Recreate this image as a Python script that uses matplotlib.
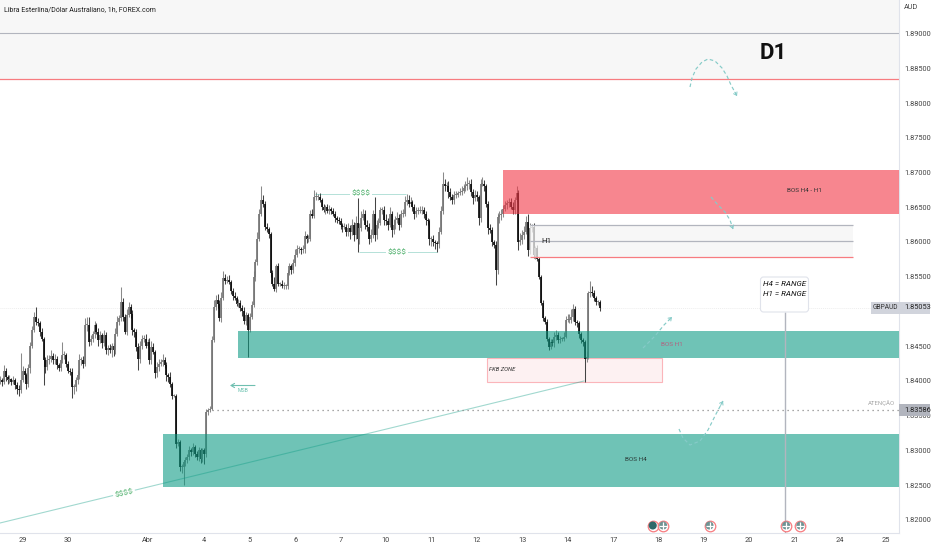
import matplotlib
matplotlib.use("Agg")
import matplotlib.pyplot as plt
from matplotlib.patches import Rectangle, FancyBboxPatch

plt.rcParams['font.family'] = ['Roboto', 'DejaVu Sans']

closes = [
1.8401,1.8399,1.8415,1.8406,1.8401,1.8403,1.8399,1.8401,1.8394,1.8389,
1.8387,1.8401,1.8415,1.8408,1.8396,1.8418,1.8451,1.8473,1.8492,1.8485,
1.8483,1.8471,1.8461,1.8430,1.8420,1.8430,1.8432,1.8436,1.8430,1.8432,
1.8423,1.8419,1.8430,1.8437,1.8437,1.8425,1.8415,1.8413,1.8391,1.8391,
1.8401,1.8408,1.8430,1.8430,1.8425,1.8480,1.8480,1.8456,1.8461,1.8468,
1.8480,1.8471,1.8459,1.8466,1.8454,1.8466,1.8444,1.8447,1.8444,1.8451,
1.8444,1.8468,1.8485,1.8490,1.8514,1.8492,1.8471,1.8495,1.8507,1.8497,
1.8473,1.8471,1.8449,1.8432,1.8451,1.8461,1.8461,1.8451,1.8456,1.8430,
1.8449,1.8442,1.8411,1.8420,1.8425,1.8427,1.8430,1.8423,1.8408,1.8406,
1.8396,1.8379,1.8379,1.8310,1.8312,1.8276,1.8276,1.8283,1.8286,1.8291,
1.8300,1.8298,1.8305,1.8295,1.8291,1.8300,1.8288,1.8300,1.8295,1.8355,
1.8358,1.8360,1.8459,1.8507,1.8516,1.8511,1.8490,1.8520,1.8548,1.8544,
1.8546,1.8543,1.8530,1.8523,1.8520,1.8511,1.8512,1.8505,1.8500,1.8487,
1.8495,1.8474,1.8492,1.8510,1.8550,1.8571,1.8605,1.8640,1.8660,1.8655,
1.8622,1.8618,1.8612,1.8555,1.8540,1.8533,1.8565,1.8540,1.8540,1.8537,
1.8537,1.8537,1.8555,1.8565,1.8560,1.8570,1.8582,1.8590,1.8590,1.8588,
1.8590,1.8608,1.8605,1.8605,1.8640,1.8638,1.8665,1.8665,1.8665,1.8660,
1.8650,1.8646,1.8650,1.8645,1.8648,1.8645,1.8640,1.8635,1.8632,1.8630,
1.8625,1.8622,1.8622,1.8615,1.8620,1.8615,1.8625,1.8610,1.8628,1.8605,
1.8620,1.8635,1.8640,1.8625,1.8622,1.8605,1.8610,1.8640,1.8610,1.8625,
1.8628,1.8646,1.8646,1.8632,1.8630,1.8625,1.8640,1.8617,1.8625,1.8632,
1.8635,1.8625,1.8640,1.8640,1.8658,1.8660,1.8655,1.8657,1.8650,1.8640,
1.8645,1.8645,1.8645,1.8646,1.8640,1.8632,1.8630,1.8604,1.8605,1.8600,
1.8598,1.8597,1.8615,1.8644,1.8684,1.8680,1.8680,1.8672,1.8665,1.8660,
1.8668,1.8668,1.8670,1.8672,1.8674,1.8677,1.8680,1.8684,1.8684,1.8672,
1.8663,1.8668,1.8665,1.8634,1.8684,1.8684,1.8680,1.8655,1.8620,1.8617,
1.8600,1.8596,1.8560,1.8636,1.8639,1.8641,1.8648,1.8653,1.8656,1.8658,
1.8651,1.8646,1.8660,1.8670,1.8600,1.8603,1.8610,1.8615,1.8629,1.8588,
1.8620,1.8622,1.8581,1.8591,1.8576,1.8550,1.8512,1.8490,1.8485,1.8461,
1.8449,1.8456,1.8454,1.8464,1.8466,1.8459,1.8461,1.8461,1.8464,1.8488,
1.8488,1.8488,1.8492,1.8504,1.8485,1.8483,1.8468,1.8459,1.8456,1.8432,
1.8435,1.8526,1.8528,1.8526,1.8519,1.8514,1.8514,1.8505]

upper_wick_pips = [
6,3,8,4,3,5,2,6,3,4,
5,40,6,3,4,7,5,6,8,15,
6,4,5,3,5,7,6,9,4,7,
4,3,6,19,6,3,4,3,5,4,
5,8,9,4,6,10,12,12,5,4,
7,4,5,6,3,8,4,5,6,4,
3,8,9,5,21,6,5,8,6,4,
5,3,4,6,7,5,5,6,4,6,
8,5,3,7,6,5,9,4,5,4,
7,2,3,2,4,3,5,3,5,4,
6,4,6,3,4,5,3,4,3,5,
3,4,6,10,8,9,5,8,10,6,
5,6,3,4,5,3,6,4,5,6,
4,3,6,5,8,5,10,7,20,8,
4,5,3,3,4,10,4,5,3,6,
5,3,4,5,4,6,8,5,4,3,
6,8,4,5,6,8,10,7,4,5,
4,5,3,4,5,3,4,5,3,4,
5,3,6,4,8,5,8,4,10,35,
7,10,8,6,7,5,8,6,25,6,
7,5,4,6,8,5,10,4,8,6,
8,5,6,7,8,9,7,8,4,5,
5,6,7,6,5,4,3,3,4,5,
3,4,6,8,17,7,6,8,5,4,
5,6,4,5,6,7,8,10,5,6,
4,7,5,3,6,10,5,3,4,6,
4,3,5,6,5,6,5,6,4,5,
5,6,5,10,5,10,7,8,8,12,
8,4,5,3,4,3,3,4,3,4,
3,5,4,6,8,5,4,3,6,6,
9,8,11,7,4,3,4,3,3,3,
8,4,16,8,5,4,3,3]

lower_wick_pips = [
5,6,3,6,5,4,5,3,6,8,
9,4,3,5,8,4,6,3,3,5,
4,6,4,36,9,4,5,4,6,5,
6,5,4,4,6,5,3,5,16,9,
5,6,5,7,6,3,8,6,4,5,
6,4,8,5,6,4,5,6,4,10,
8,5,3,4,3,5,4,5,3,6,
7,8,6,16,6,5,5,4,3,5,
6,3,7,5,5,4,6,5,8,8,
4,5,2,6,3,5,8,26,5,4,
5,6,4,5,5,6,6,5,14,5,
4,3,2,3,5,6,4,5,3,4,
3,4,5,6,4,3,5,4,6,5,
7,39,4,3,3,6,4,4,3,5,
5,4,6,6,4,4,5,3,4,3,
4,5,4,3,6,4,5,3,6,5,
4,6,7,5,3,4,3,4,5,3,
4,3,5,3,4,5,3,6,5,4,
6,8,4,7,6,10,5,9,6,19,
8,4,3,7,6,8,5,4,9,6,
5,4,6,8,5,8,4,10,6,6,
4,8,3,4,3,5,4,3,6,7,
4,5,3,4,5,8,6,8,10,6,
8,12,5,4,3,6,5,8,4,6,
5,4,3,3,4,3,4,5,8,6,
8,4,6,10,5,3,6,5,8,4,
6,5,22,6,8,7,5,4,6,5,
4,5,6,3,12,5,6,5,4,8,
5,6,4,5,4,3,3,3,3,4,
4,3,4,5,5,4,5,4,3,2,
3,5,4,5,4,5,6,4,5,33,
5,4,5,3,4,5,4,5]

day_ticks = [12,36,78,108,132,156,180,204,228,252,276,300,324,348,372,396,420,444,468]
day_labels = ['29','30','Abr','4','5','6','7','10','11','12','13','14','17','18','19','20','21','24','25']
price_ticks = [1.82,1.825,1.83,1.835,1.84,1.845,1.855,1.86,1.865,1.87,1.875,1.88,1.885,1.89]
last_price = 1.85053
alert_price = 1.83586
d1_top = 1.89
d1_bottom = 1.8835
red_zone = (266, 1.8640, 1.8703)
h1_zone = (280, 451, 1.8579, 1.8602, 1.8625)
teal_h1 = (126, 1.8433, 1.8472)
teal_h4 = (86, 1.8248, 1.8324)
fkb_zone = (257.5, 350, 1.8399, 1.8433)
event_days = [345, 350.5, 375, 415.5, 423]

W, H = 932, 550
AX_R, AX_B = 899, 533
PX_PER_BAR = 1.892
PX_PER_PRICE = 6950
fig = plt.figure(figsize=(W/100, H/100), dpi=100, facecolor='white')
ax = fig.add_axes([0, (H-AX_B)/H, AX_R/W, AX_B/H])
ax.set_xlim(0, AX_R/PX_PER_BAR)
ax.set_ylim(1.89-(AX_B-33.5)/PX_PER_PRICE, 1.89+33.5/PX_PER_PRICE)

def X(px): return px/PX_PER_BAR
def Y(py): return 1.89-(py-33.5)/PX_PER_PRICE

xmax = ax.get_xlim()[1]
ymax = ax.get_ylim()[1]
GRID = '#b2b5be'
REDL = '#f77c80'

# D1 band
ax.add_patch(Rectangle((0, d1_bottom), xmax, ymax-d1_bottom, fc='#f7f7f7', ec='none', zorder=1))
ax.axhline(d1_top, color=GRID, lw=0.8, zorder=2)
ax.axhline(d1_bottom, color=REDL, lw=0.9, zorder=2)
# last price faint line
ax.axhline(last_price, color='#eeeeee', lw=0.7, ls=(0, (1, 1)), zorder=1)

# candles
for i, c in enumerate(closes):
    o = closes[i-1] if i else c
    hi = max(o, c)+upper_wick_pips[i]/1e4
    lo = min(o, c)-lower_wick_pips[i]/1e4
    up = c >= o
    ax.vlines(i, lo, hi, color='#8a8a8a' if up else '#444444', lw=0.75, zorder=3)
    ax.vlines(i, min(o, c), max(max(o, c), min(o, c)+0.00014), color='#767676' if up else '#0c0c0c', lw=1.25, zorder=4)

# zones
ax.add_patch(Rectangle((red_zone[0], red_zone[1]), xmax-red_zone[0], red_zone[2]-red_zone[1], fc='#f23645', alpha=0.6, ec='none', zorder=5))
for z in (teal_h1, teal_h4):
    ax.add_patch(Rectangle((z[0], z[1]), xmax-z[0], z[2]-z[1], fc='#089981', alpha=0.58, ec='none', zorder=5))
ax.add_patch(Rectangle((h1_zone[0], h1_zone[2]), h1_zone[1]-h1_zone[0], h1_zone[4]-h1_zone[2], fc='#f5f5f5', alpha=0.75, ec='none', zorder=5))
ax.hlines([h1_zone[3], h1_zone[4]], h1_zone[0], h1_zone[1], color=GRID, lw=0.9, zorder=6)
ax.hlines(h1_zone[2], h1_zone[0], h1_zone[1], color=REDL, lw=0.9, zorder=6)
ax.text(X(546), h1_zone[3], 'H1', fontsize=5.8, color='#222222', ha='center', va='center', zorder=8)
ax.add_patch(Rectangle((fkb_zone[0], fkb_zone[2]), fkb_zone[1]-fkb_zone[0], fkb_zone[3]-fkb_zone[2], fc='#fdf1f2', ec='#fbb5ba', lw=0.8, zorder=2))
ax.text(X(489), Y(369.5), 'FKB ZONE', fontsize=4.2, style='italic', color='#333333', va='center', zorder=8)

# trend line and liquidity lines
TEAL_L = '#089981'
ax.plot([0, X(584)], [Y(523), Y(381)], color=TEAL_L, alpha=0.38, lw=0.8, zorder=6)
ax.hlines(Y(194), X(315), X(406), color=TEAL_L, alpha=0.3, lw=0.7, zorder=6)
ax.hlines(Y(252), X(359), X(437), color=TEAL_L, alpha=0.3, lw=0.7, zorder=6)
GREEN = '#4caf6a'
bb = dict(fc='white', ec='none', pad=1.2)
ax.text(X(361), Y(193), '$$$$', fontsize=6, color=GREEN, ha='center', va='center', bbox=bb, zorder=7, parse_math=False)
ax.text(X(397), Y(252.5), '$$$$', fontsize=6, color=GREEN, ha='center', va='center', bbox=bb, zorder=7, parse_math=False)
ax.text(X(124), Y(493), '$$$$', fontsize=6, color=GREEN, ha='center', va='center', rotation=13, bbox=bb, zorder=7, parse_math=False)

# alert line
ax.hlines(alert_price, X(212), xmax, color='#8a8a8a', lw=0.9, ls=(0, (1, 3)), zorder=6)
ax.text(X(895), Y(403.5), 'ATENÇÃO', fontsize=4.3, color='#a6a6a6', ha='right', va='center', zorder=8)

# zone labels
ax.text(X(804), Y(191), 'BOS H4 - H1', fontsize=4.6, color='#333333', ha='center', va='center', zorder=8)
ax.text(X(672), Y(344), 'BOS H1', fontsize=4.6, color='#b5607f', ha='center', va='center', zorder=8)
ax.text(X(636), Y(460), 'BOS H4', fontsize=4.6, color='#2b3b38', ha='center', va='center', zorder=8)
ax.text(X(773.5), Y(53), 'D1', fontsize=16, weight='bold', color='#111111', ha='center', va='center', zorder=8)

# callout
ax.vlines(X(784.5), Y(AX_B), Y(312), color=GRID, lw=1.0, zorder=7)
ax.add_patch(FancyBboxPatch((X(760.5), Y(312)), X(48), Y(277)-Y(312),
             boxstyle=f'round,pad=0,rounding_size={X(3)}', mutation_aspect=PX_PER_BAR/PX_PER_PRICE,
             fc='white', ec='#e0e3eb', lw=0.8, zorder=8))
ax.text(X(785), Y(284), 'H4 = RANGE', fontsize=5.8, style='italic', color='#111111', ha='center', va='center', zorder=9)
ax.text(X(785), Y(294.5), 'H1 = RANGE', fontsize=5.8, style='italic', color='#111111', ha='center', va='center', zorder=9)

# dashed arrows
ARROW = '#86cbc8'
def dashed(pts):
    xs = [X(p[0]) for p in pts]; ys = [Y(p[1]) for p in pts]
    ax.plot(xs, ys, color=ARROW, lw=0.85, ls=(0, (3, 2.2)), zorder=8)
    tx = xs[-1]+(xs[-2]-xs[-1])*0.35
    ty = ys[-1]+(ys[-2]-ys[-1])*0.35
    ax.annotate('', xy=(xs[-1], ys[-1]), xytext=(tx, ty),
                arrowprops=dict(arrowstyle='->,head_length=0.2,head_width=0.14', color=ARROW, lw=0.7, shrinkA=0, shrinkB=0), zorder=8)
dashed([(690,87),(692,78),(696,69),(702,62),(708,59),(715,61),(722,68),(727,76),(731,85),(737,96)])
dashed([(711,197),(718,205),(725,212),(730,220),(733,229)])
dashed([(643,348),(655,336),(664,325),(672,317)])
dashed([(679,429),(683,438),(690,445),(700,441),(708,430),(716,414),(723,401)])
ax.annotate('', xy=(X(230), Y(385.5)), xytext=(X(255), Y(385.5)),
            arrowprops=dict(arrowstyle='->,head_length=0.25,head_width=0.15', color='#6fbfb0', lw=0.8, shrinkA=0, shrinkB=0), zorder=8)
ax.text(X(243), Y(391), 'MSB', fontsize=3.8, color='#6ec3b1', ha='center', va='center', zorder=8)

# event icons
for n, k in enumerate(event_days):
    cy = Y(525.5)
    dark = n == 0
    ax.scatter([k], [cy], s=58, fc='white', ec='#f77c80', lw=0.9, zorder=9)
    ax.scatter([k], [cy], s=34, fc='#2f6a6a' if dark else '#6f9393', ec='none', zorder=10)
    if not dark:
        ax.scatter([k], [cy], s=34, marker='+', c='white', lw=0.9, zorder=11)

# axes
for s in ('top', 'left'):
    ax.spines[s].set_visible(False)
for s in ('right', 'bottom'):
    ax.spines[s].set_color('#e0e3eb')
    ax.spines[s].set_linewidth(0.8)
ax.yaxis.tick_right()
ax.set_xticks(day_ticks)
ax.set_xticklabels(day_labels)
ax.set_yticks(price_ticks)
ax.set_yticklabels([f'{v:.5f}' for v in price_ticks])
ax.tick_params(axis='both', length=0, labelsize=5.3, labelcolor='#444444')
ax.tick_params(axis='y', pad=3.6)
ax.tick_params(axis='x', pad=2.8)

fig.text(904/W, 1-7.5/H, 'AUD', fontsize=5.2, color='#444444', va='center')
fig.text(4/W, 1-10/H, 'Libra Esterlina/Dólar Australiano, 1h, FOREX.com', fontsize=5.0, color='#222222', va='center')

# price labels
for (px, py, w, h, col) in [(871, 313.5, 28, 12, '#d1d4dc'), (899, 313.5, 31, 12, '#d1d4dc'), (899, 416, 31, 12.5, '#b2b5be')]:
    fig.add_artist(Rectangle((px/W, 1-py/H), w/W, h/H, transform=fig.transFigure, fc=col, ec='none', zorder=4))
fig.text(885/W, 1-307.5/H, 'GBPAUD', fontsize=4.8, color='#333333', ha='center', va='center', zorder=5)
fig.text(904/W, 1-307.5/H, f'{last_price:.5f}', fontsize=5.3, color='#222222', va='center', zorder=5)
fig.text(904/W, 1-410/H, f'{alert_price:.5f}', fontsize=5.3, color='#222222', va='center', zorder=5)

fig.savefig('out.png', dpi=100)
